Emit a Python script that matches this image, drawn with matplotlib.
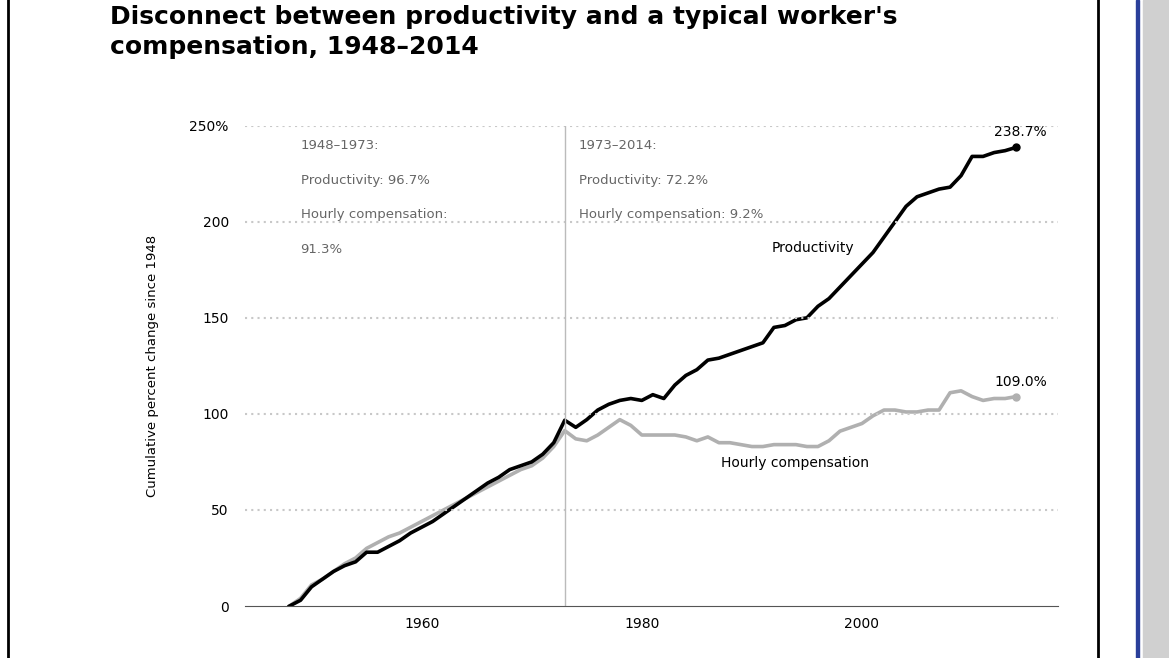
#!/usr/bin/env python3
"""Productivity vs typical worker compensation, 1948-2014"""

import matplotlib.pyplot as plt
from matplotlib.patches import Rectangle

years = list(range(1948, 2015))
productivity = [
    0, 3, 10, 14, 18, 21, 23, 28, 28, 31, 34, 38, 41, 44, 48, 52, 56, 60, 64, 67,
    71, 73, 75, 79, 85, 96.7, 93, 97, 102, 105, 107, 108, 107, 110, 108, 115,
    120, 123, 128, 129, 131, 133, 135, 137, 145, 146, 149, 150, 156, 160, 166,
    172, 178, 184, 192, 200, 208, 213, 215, 217, 218, 224, 234, 234, 236, 237,
    238.7,
]
compensation = [
    0, 4, 11, 14, 18, 22, 25, 30, 33, 36, 38, 41, 44, 47, 50, 53, 56, 59, 62, 65,
    68, 71, 73, 77, 83, 91.3, 87, 86, 89, 93, 97, 94, 89, 89, 89, 89, 88, 86,
    88, 85, 85, 84, 83, 83, 84, 84, 84, 83, 83, 86, 91, 93, 95, 99, 102, 102,
    101, 101, 102, 102, 111, 112, 109, 107, 108, 108, 109.0,
]
y_ticks = [0, 50, 100, 150, 200, 250]
y_labels = ["0", "50", "100", "150", "200", "250%"]
x_ticks = [1960, 1980, 2000]

fig = plt.figure(figsize=(11.69, 6.58), dpi=100)
fig.patches.append(Rectangle((0.007, -0.1), 0.932, 1.2, transform=fig.transFigure,
                             fill=False, edgecolor="black", lw=2))
fig.patches.append(Rectangle((0.9715, 0), 0.003, 1, transform=fig.transFigure,
                             color="#2a3f9a"))
fig.patches.append(Rectangle((0.978, 0), 0.03, 1, transform=fig.transFigure,
                             color="#d0d0d0"))

fig.text(0.094, 0.91, "Disconnect between productivity and a typical worker's\ncompensation, 1948\u20132014",
         fontsize=18, fontweight="bold", va="bottom", linespacing=1.35)

ax = fig.add_axes([0.21, 0.079, 0.695, 0.73])
ax.plot(years, compensation, color="#b0b0b0", lw=2.6)
ax.plot(years, productivity, color="black", lw=2.6)
ax.plot(years[-1], productivity[-1], "o", color="black", ms=5)
ax.plot(years[-1], compensation[-1], "o", color="#b0b0b0", ms=5)

ax.set_xlim(1944, 2017.8)
ax.set_ylim(0, 250)
ax.set_yticks(y_ticks, y_labels)
ax.set_xticks(x_ticks)
ax.tick_params(length=0, labelsize=10, pad=12)
ax.tick_params(axis="x", pad=8)
for v in y_ticks[1:]:
    ax.axhline(v, color="#c8c8c8", ls=(0, (1, 2)), lw=1.5)
ax.axvline(1973, color="#bbbbbb", lw=1)
for s in ["top", "right", "left"]:
    ax.spines[s].set_visible(False)
ax.spines["bottom"].set_color("#555555")
ax.set_ylabel("Cumulative percent change since 1948", fontsize=9.5, labelpad=22)

grey = "#666666"
ax.text(1949, 243, "1948\u20131973:", fontsize=9.5, color=grey, va="top")
ax.text(1949, 225, "Productivity: 96.7%", fontsize=9.5, color=grey, va="top")
ax.text(1949, 207, "Hourly compensation:", fontsize=9.5, color=grey, va="top")
ax.text(1949, 189, "91.3%", fontsize=9.5, color=grey, va="top")
ax.text(1974.3, 243, "1973\u20132014:", fontsize=9.5, color=grey, va="top")
ax.text(1974.3, 225, "Productivity: 72.2%", fontsize=9.5, color=grey, va="top")
ax.text(1974.3, 207, "Hourly compensation: 9.2%", fontsize=9.5, color=grey, va="top")
ax.text(1991.8, 190, "Productivity", fontsize=10, va="top")
ax.text(1987.2, 78, "Hourly compensation", fontsize=10, va="top")
ax.text(2012, 243, "238.7%", fontsize=10, va="bottom")
ax.text(2012, 113, "109.0%", fontsize=10, va="bottom")

fig.savefig("out.png", dpi=100)
